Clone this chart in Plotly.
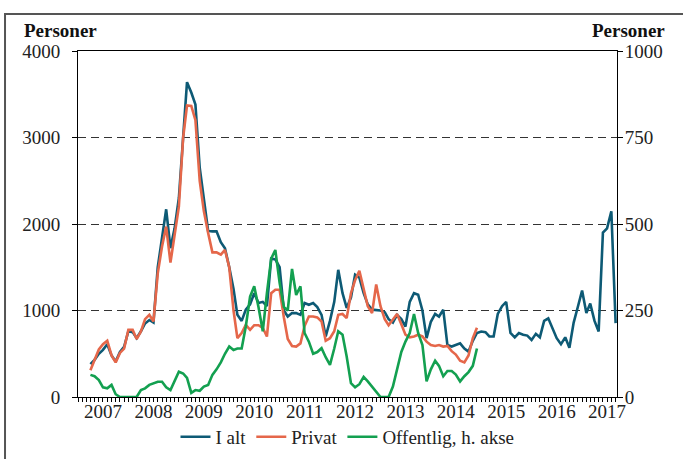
import pandas as pd
import plotly.graph_objects as go

# Monthly data starting April 2007
i_alt = [380, 430, 500, 545, 610, 480, 410, 520, 580, 760, 750, 680, 760, 850, 890, 860,
         1500, 1850, 2170, 1720, 1950, 2300, 3050, 3640, 3520, 3380, 2650, 2320, 1920, 1915,
         1915, 1790, 1720, 1500, 1250, 950, 880, 1010, 1070, 1200, 1086, 1100, 1050, 1600,
         1590, 1500, 1000, 930, 970, 970, 950, 1086, 1066, 1086, 1040, 950, 700, 880, 1100,
         1470, 1200, 1030, 1150, 1414, 1380, 1200, 1070, 1010, 1008, 1000, 980, 900, 860, 950,
         900, 815, 1100, 1200, 1182, 1000, 680, 870, 960, 930, 1008, 600, 583, 600, 620, 560,
         525, 650, 740, 757, 750, 700, 700, 960, 1050, 1100, 740, 690, 740, 720, 710, 660,
         730, 690, 880, 910, 800, 680, 610, 690, 570, 860, 1040, 1230, 970, 1080, 880, 757,
         1900, 1950, 2147, 854]

privat = [310, 420, 550, 610, 650, 480, 400, 510, 560, 776, 776, 670, 757, 900, 950, 873,
          1430, 1740, 1970, 1553, 1900, 2200, 3000, 3370, 3364, 3200, 2500, 2150, 1897, 1672,
          1672, 1645, 1700, 1500, 1000, 680, 740, 834, 776, 830, 830, 800, 699, 1200, 1240,
          1240, 920, 670, 590, 583, 620, 820, 930, 930, 920, 873, 650, 680, 760, 950, 960,
          912, 1200, 1350, 1460, 1250, 1050, 970, 1300, 1050, 900, 830, 900, 960, 840, 720,
          690, 700, 720, 700, 640, 600, 590, 600, 583, 590, 530, 490, 420, 400, 480, 680, 800]

offentlig = [64, 60, 49, 28, 25, 35, 8, 0, 0, 0, 0, 0, 20, 25, 35, 40, 44, 44, 28, 20, 45,
             73, 68, 55, 12, 20, 18, 30, 35, 64, 80, 100, 125, 146, 136, 140, 140, 204, 290,
             320, 260, 190, 300, 400, 425, 330, 260, 250, 370, 295, 320, 185, 160, 125, 130,
             141, 115, 93, 140, 190, 180, 117, 40, 28, 37, 58, 45, 30, 15, 0, 0, 0, 30, 80,
             130, 160, 185, 240, 185, 150, 45, 80, 105, 90, 60, 75, 75, 65, 45, 60, 72, 90, 140]

years = list(range(2007, 2018))

dates_all = pd.date_range("2007-04-01", periods=len(i_alt), freq="MS")
dates_priv = pd.date_range("2007-04-01", periods=len(privat), freq="MS")
dates_off = pd.date_range("2007-04-01", periods=len(offentlig), freq="MS")

C_ALT = "#0d5a75"
C_PRIV = "#e5674a"
C_OFF = "#13a050"
FONT = "Liberation Serif"

fig = go.Figure()
fig.add_trace(go.Scatter(x=dates_all, y=i_alt, mode="lines", name="I alt",
                         line=dict(color=C_ALT, width=2.6)))
fig.add_trace(go.Scatter(x=dates_priv, y=privat, mode="lines", name="Privat",
                         line=dict(color=C_PRIV, width=2.6)))
fig.add_trace(go.Scatter(x=dates_off, y=offentlig, mode="lines", name="Offentlig, h. akse",
                         line=dict(color=C_OFF, width=2.6), yaxis="y2"))

fig.update_layout(
    width=683, height=459,
    margin=dict(l=78, r=66, t=51, b=62, autoexpand=False),
    plot_bgcolor="white", paper_bgcolor="white",
    font=dict(family=FONT, size=19, color="#222"),
    showlegend=True,
    legend=dict(orientation="h", x=0.5, xanchor="center",
                yref="container", y=0.048, yanchor="middle",
                font=dict(family=FONT, size=19, color="#222"), itemwidth=30,
                tracegroupgap=0, bgcolor="rgba(0,0,0,0)"),
    xaxis=dict(
        type="date", automargin=False,
        range=["2007-01-01", "2017-09-11"],
        tickvals=[f"{y}-07-01" for y in years],
        ticktext=[str(y) for y in years],
        ticks="outside", ticklen=4, tickcolor="black",
        ticklabelstandoff=-7,
        showline=True, linecolor="black", linewidth=1, mirror=True,
        showgrid=False, zeroline=False,
        minor=dict(dtick="M1", tick0="2007-01-01", ticks="outside", ticklen=4,
                   tickcolor="black", showgrid=False),
    ),
    yaxis=dict(
        range=[0, 4000], dtick=1000, tick0=0, automargin=False,
        ticks="outside", ticklen=5, tickcolor="black",
        ticklabelstandoff=8,
        showline=True, linecolor="black", linewidth=1, mirror=True,
        showgrid=True, gridcolor="#333", griddash="8px,5px", gridwidth=1,
        zeroline=False,
    ),
    yaxis2=dict(
        range=[0, 1000], dtick=250, tick0=0, overlaying="y", side="right",
        automargin=False,
        ticks="outside", ticklen=5, tickcolor="black",
        ticklabelstandoff=-2,
        showline=True, linecolor="black", linewidth=1,
        showgrid=False, zeroline=False,
    ),
)

fig.add_annotation(text="<b>Personer</b>", xref="paper", yref="paper",
                   x=-0.104, y=1.06, xanchor="left", yanchor="middle",
                   showarrow=False, font=dict(family=FONT, size=19, color="#111"))
fig.add_annotation(text="<b>Personer</b>", xref="paper", yref="paper",
                   x=1.093, y=1.06, xanchor="right", yanchor="middle",
                   showarrow=False, font=dict(family=FONT, size=19, color="#111"))

# outer frame
fig.add_shape(type="rect", xref="paper", yref="paper",
              x0=-0.1354, x1=1.14, y0=-0.25, y1=1.107,
              line=dict(color="#555", width=2), fillcolor="rgba(0,0,0,0)", layer="below")

fig.write_html("out.html", config={"displayModeBar": False},
               post_script="document.body.style.margin='0';")
